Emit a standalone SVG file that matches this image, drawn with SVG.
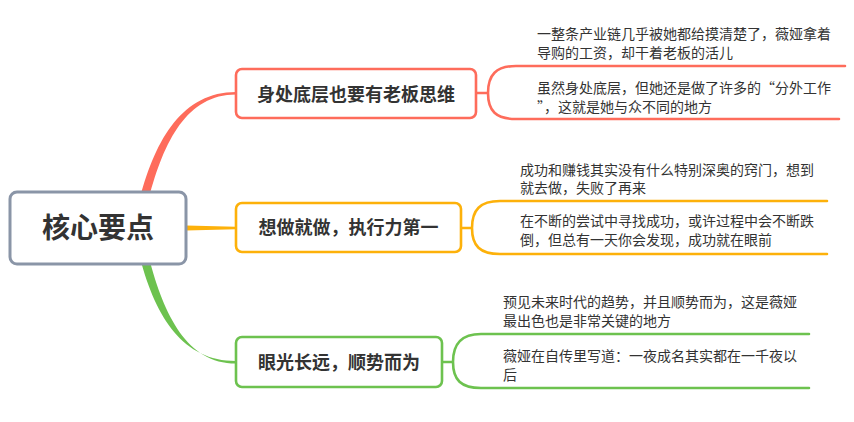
<svg xmlns="http://www.w3.org/2000/svg" width="854" height="422" viewBox="0 0 854 422">
<style>
.node rect{fill:#fff;stroke-width:2.6}
.t{font-family:"Noto Sans CJK SC","Noto Sans",sans-serif;fill:#333}
.main{font-size:28px;font-weight:bold}
.sub{font-size:18px;font-weight:bold}
.leaf{font-size:14px}
.ln{fill:none;stroke-width:2.6;stroke-linecap:round}
.red{stroke:#fe6c5b}.org{stroke:#fdb10a}.grn{stroke:#6dc24f}
</style>
<rect width="854" height="422" fill="#fff"/>
<g id="connectors">
<path d="M140,198 C156,138 183,92 236,92 L236,94.6 C187,94.6 164,141 149,198 Z" fill="#fe6c5b"/>
<path d="M186,225.5 L236,226.8 L236,229.2 L186,230.5 Z" fill="#fdb10a"/>
<path d="M140,258 C156,318 183,361 236,361 L236,363.6 C187,363.6 164,315 149,258 Z" fill="#6dc24f"/>
<path class="ln red" d="M476,93 H488 M488,93 C488,75 496,66 516,66 H845 M488,93 C488,111 496,119 516,119 H839"/>
<path class="ln org" d="M461,228 H472 M472,228 C472,210 480,201 500,201 H827 M472,228 C472,246 480,254 500,254 H827"/>
<path class="ln grn" d="M442,362 H453 M453,362 C453,344 461,334 481,334 H809 M453,362 C453,380 461,388 481,388 H809"/>
</g>
<g id="root" class="node">
<rect x="10" y="192" width="176" height="72" rx="7" style="stroke:#8a95a7;stroke-width:3"/>
<text class="t main" x="98" y="238" text-anchor="middle">核心要点</text>
</g>
<g id="n1" class="node">
<rect x="236" y="69" width="240" height="49" rx="6" class="red"/>
<text class="t sub" x="356" y="100.5" text-anchor="middle">身处底层也要有老板思维</text>
</g>
<g id="n2" class="node">
<rect x="236" y="203" width="225" height="49" rx="6" class="org"/>
<text class="t sub" x="348.5" y="234" text-anchor="middle">想做就做，执行力第一</text>
</g>
<g id="n3" class="node">
<rect x="236" y="337" width="206" height="50" rx="6" class="grn"/>
<text class="t sub" x="339" y="368.5" text-anchor="middle">眼光长远，顺势而为</text>
</g>
<g id="l1a"><text class="t leaf" x="537" y="39">一整条产业链几乎被她都给摸清楚了，薇娅拿着</text><text class="t leaf" x="537" y="57.5">导购的工资，却干着老板的活儿</text></g>
<g id="l1b"><text class="t leaf" x="537" y="93">虽然身处底层，但她还是做了许多的“分外工作</text><text class="t leaf" x="537" y="112">”，这就是她与众不同的地方</text></g>
<g id="l2a"><text class="t leaf" x="520" y="174.5">成功和赚钱其实没有什么特别深奥的窍门，想到</text><text class="t leaf" x="520" y="193">就去做，失败了再来</text></g>
<g id="l2b"><text class="t leaf" x="520" y="226">在不断的尝试中寻找成功，或许过程中会不断跌</text><text class="t leaf" x="520" y="244.5">倒，但总有一天你会发现，成功就在眼前</text></g>
<g id="l3a"><text class="t leaf" x="503" y="307">预见未来时代的趋势，并且顺势而为，这是薇娅</text><text class="t leaf" x="503" y="325.5">最出色也是非常关键的地方</text></g>
<g id="l3b"><text class="t leaf" x="503" y="361">薇娅在自传里写道：一夜成名其实都在一千夜以</text><text class="t leaf" x="503" y="379.5">后</text></g>
</svg>
